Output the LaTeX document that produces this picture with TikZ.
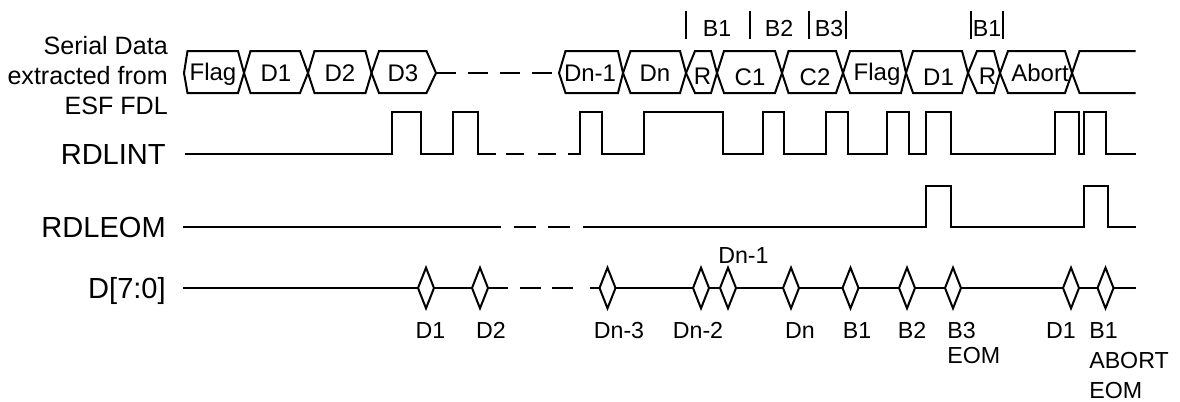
\documentclass[tikz,border=0pt]{standalone}
\usepackage{fontspec}
\setmainfont{Liberation Sans}
\usetikzlibrary{shapes.geometric, positioning, calc}

\begin{document}
\begin{tikzpicture}[
    x=0.75pt, y=-0.75pt,
    % Line styles
    wave/.style={line width=1.5pt, line join=miter},
    gapwave/.style={line width=1.5pt, dash pattern=on 15pt off 9pt},
    tick/.style={line width=1.5pt},
    cross/.style={diamond, draw, line width=1.5pt, inner sep=0pt, outer sep=0pt, minimum width=12pt, minimum height=30.5pt},
    % Text styles
    signame/.style={font=\fontsize{21.8}{24}\selectfont, anchor=east, inner sep=0pt, text height=15.6pt, text depth=0pt},
    serial/.style={font=\fontsize{18.8}{22}\selectfont, anchor=east, inner sep=0pt, text height=13.5pt, text depth=0pt},
    field/.style={font=\fontsize{18}{20}\selectfont, inner sep=0pt, text height=13pt, text depth=0pt},
    value/.style={font=\fontsize{17.4}{20}\selectfont, inner sep=0pt, text height=12.5pt, text depth=0pt},
    valueleft/.style={value, anchor=west}
]
\useasboundingbox (0,0) rectangle (1180,401);

% === SIGNAL NAMES ===
\node[serial] (name_a) at (168,45) {Serial Data};
\node[serial] (name_b) at (168,75) {extracted from};
\node[serial] (name_c) at (168,105) {ESF FDL};
\node[signame] (name_int) at (166,154) {RDLINT};
\node[signame] (name_eom) at (166,227) {RDLEOM};
\node[signame] (name_d) at (166,288) {D[7:0]};

% === SERIAL DATA ===
\foreach \xa/\xb/\xc/\xd/\tx/\ty/\txt in {
    184/187.5/238/244/213/72/Flag,
    244/250.5/300/308/276/73/D1,
    308/314.5/365.5/371.5/340/73/D2,
    371.5/379/426.5/436/403/73/D3,
    559/565.5/618/623/590/73/Dn-1,
    623/630.5/680/686/655/73/Dn,
    686/695/711/717/702.5/76/R,
    717/724/775/782/750/77/C1,
    782/788.5/836/843/815/77/C2,
    843/850/901/906/877/72/Flag,
    906/913/962/968/938.5/77/D1,
    968/977/994/1000/987.5/76/R,
    1000/1008/1065/1072/1040/73/Abort
}{
    \draw[wave] (\xa,73) -- (\xb,51) -- (\xc,51) -- (\xd,73) -- (\xc,93) -- (\xb,93) -- cycle;
    \node[field] at (\tx,\ty) {\txt};
}
% Last open field
\draw[wave] (1135.5,51) -- (1079.5,51) -- (1072,73) -- (1079.5,93) -- (1135.5,93);
% Gap in the serial data
\coordinate (serial_gap_a) at (436,73);
\coordinate (serial_gap_b) at (553,73);
\draw[gapwave] (serial_gap_a) -- (serial_gap_b);

% === BYTE MARKS ===
\foreach \x in {686,749.5,808.5,846,970.5,1003}{
    \draw[tick] (\x,11) -- (\x,39);
}
\node[value] at (717,28) {B1};
\node[value] at (779,28) {B2};
\node[value] at (829,28) {B3};
\node[value] at (987,28) {B1};

% === RDLINT ===
\draw[wave] (185,154) -| (391.5,112) -| (421,154) -| (453,112) -| (477.5,154) -- (495.5,154);
\draw[gapwave, dash pattern=on 13.5pt off 10.5pt] (506,154) -- (556,154);
\draw[wave] (568,154) -| (580,112) -| (602,154) -| (644,112) -| (723,154) -| (762.5,112) -| (784,154)
    -| (826,112) -| (848,154) -| (887,112) -| (909,154) -| (926,112) -| (950.5,154)
    -| (1054.5,112) -| (1078.5,154) -| (1084,112) -| (1105.5,154) -- (1135.5,154);

% === RDLEOM ===
\draw[wave] (183,227) -- (500.5,227);
\draw[gapwave, dash pattern=on 16.5pt off 9pt] (513.5,227) -- (570,227);
\draw[wave] (582.5,227) -| (926,186) -| (951,227) -| (1083.5,186) -| (1108,227) -- (1135.5,227);

% === D[7:0] ===
\node[cross] (q_d1) at (426,288) {};
\node[cross] (q_d2) at (480,288) {};
\node[cross] (q_dn3) at (607.5,288) {};
\node[cross] (q_dn2) at (701,288) {};
\node[cross] (q_dn1) at (728,288) {};
\node[cross] (q_dn) at (791,288) {};
\node[cross] (q_b1) at (850.5,288) {};
\node[cross] (q_b2) at (907,288) {};
\node[cross] (q_b3) at (953,288) {};
\node[cross] (q_d1b) at (1071,288) {};
\node[cross] (q_b1b) at (1105.5,288) {};
\coordinate (bus_start) at (183,288);
\coordinate (bus_gap_a) at (508,288);
\coordinate (bus_dash_a) at (520,288);
\coordinate (bus_dash_b) at (573,288);
\coordinate (bus_gap_b) at (590,288);
\coordinate (bus_end) at (1135.5,288);

\draw[wave] (bus_start) -- (q_d1);
\draw[wave] (q_d1) -- (q_d2);
\draw[wave] (q_d2) -- (bus_gap_a);
\draw[gapwave, dash pattern=on 15.75pt off 8.25pt] (bus_dash_a) -- (bus_dash_b);
\draw[wave] (bus_gap_b) -- (q_dn3);
\draw[wave] (q_dn3) -- (q_dn2);
\draw[wave] (q_dn2) -- (q_dn1);
\draw[wave] (q_dn1) -- (q_dn);
\draw[wave] (q_dn) -- (q_b1);
\draw[wave] (q_b1) -- (q_b2);
\draw[wave] (q_b2) -- (q_b3);
\draw[wave] (q_b3) -- (q_d1b);
\draw[wave] (q_d1b) -- (q_b1b);
\draw[wave] (q_b1b) -- (bus_end);

% Values on the bus
\node[value] at (430.5,330) {D1};
\node[value] at (491,330) {D2};
\node[value] at (619,330) {Dn-3};
\node[value] at (698,330) {Dn-2};
\node[valueleft] at (718,255) {Dn-1};
\node[value] at (800,330) {Dn};
\node[value] at (857,330) {B1};
\node[value] at (912,330) {B2};
\node[valueleft] at (947,330) {B3};
\node[valueleft] at (947,355) {EOM};
\node[value] at (1061,330) {D1};
\node[valueleft] at (1089,330) {B1};
\node[valueleft] at (1089,360) {ABORT};
\node[valueleft] at (1089,390) {EOM};

\end{tikzpicture}
\end{document}
